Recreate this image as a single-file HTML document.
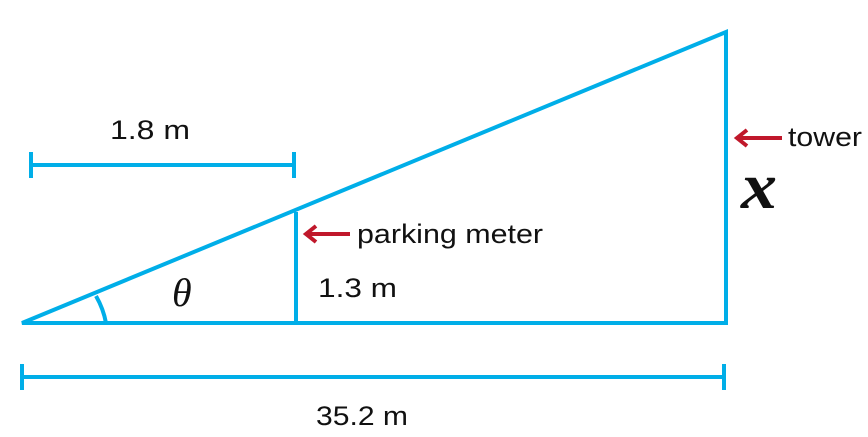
<!DOCTYPE html>
<html><head><meta charset="utf-8"><style>
html,body{margin:0;padding:0;background:#fff;}
svg{display:block;}
</style></head><body>
<svg width="868" height="437" viewBox="0 0 868 437" xmlns="http://www.w3.org/2000/svg">
<g stroke="#00aee8" stroke-width="4" fill="none" stroke-linecap="butt">
<polygon points="22,323 726,32 726,323" stroke-linejoin="miter"/>
<line x1="296" y1="212" x2="296" y2="323"/>
<path d="M96,296 A85,85 0 0 1 106,323"/>
<line x1="31" y1="165" x2="294" y2="165"/>
<line x1="31" y1="152" x2="31" y2="178"/>
<line x1="294" y1="152" x2="294" y2="178"/>
<line x1="22" y1="377" x2="724" y2="377"/>
<line x1="22" y1="364" x2="22" y2="390"/>
<line x1="724" y1="364" x2="724" y2="390"/>
</g>
<g stroke="#c0182b" stroke-width="4" fill="none">
<line x1="306" y1="234" x2="350" y2="234"/>
<polyline points="316,226 306,234 316,242" stroke-linejoin="miter"/>
<line x1="737" y1="138" x2="782" y2="138"/>
<polyline points="747,130 737,138 747,146"/>
</g>
<g font-family="'Liberation Sans',sans-serif" fill="#111">
<text x="110" y="139" font-size="27" textLength="80" lengthAdjust="spacingAndGlyphs">1.8 m</text>
<text x="318" y="297" font-size="27" textLength="79" lengthAdjust="spacingAndGlyphs">1.3 m</text>
<text x="316" y="425" font-size="27" textLength="92" lengthAdjust="spacingAndGlyphs">35.2 m</text>
<text x="357" y="243" font-size="27" textLength="186" lengthAdjust="spacingAndGlyphs">parking meter</text>
<text x="788" y="146" font-size="27" textLength="74" lengthAdjust="spacingAndGlyphs">tower</text>
</g>
<g font-family="'Liberation Serif',serif" font-style="italic" fill="#111">
<text x="172" y="306" font-size="40">θ</text>
<text x="741" y="208" font-size="66" font-weight="bold" textLength="36" lengthAdjust="spacingAndGlyphs">x</text>
</g>
</svg>
</body></html>
